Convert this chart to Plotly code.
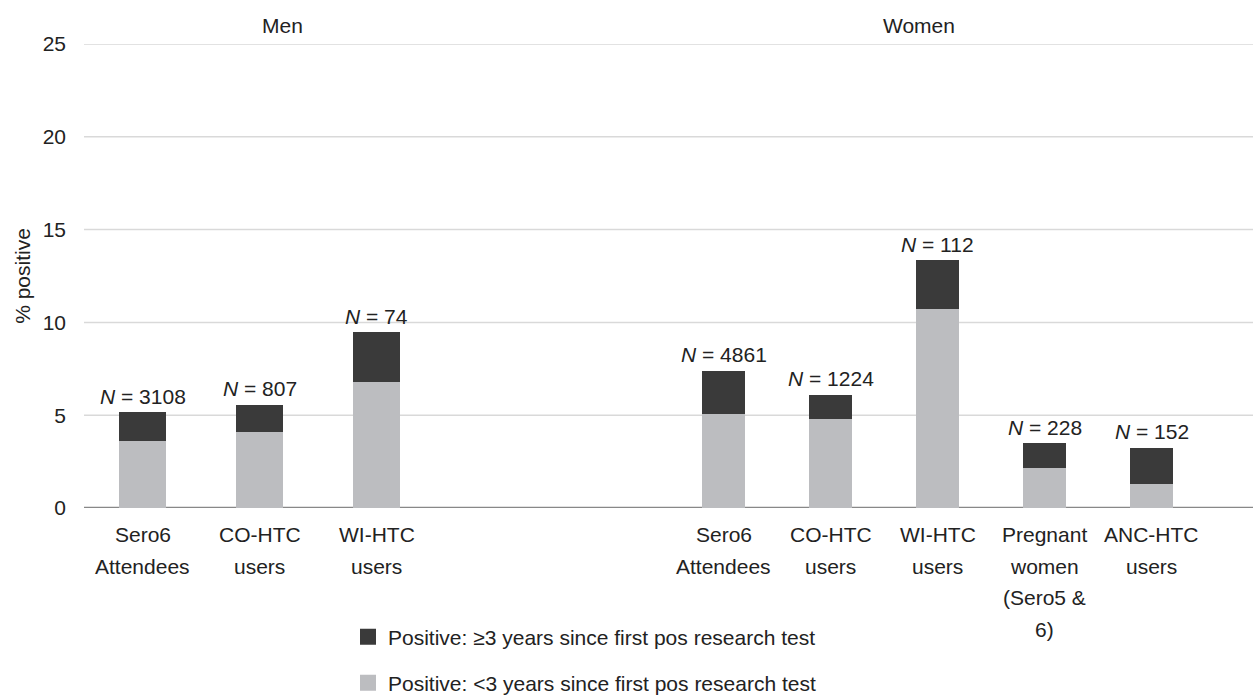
import plotly.graph_objects as go

# ---------------- data ----------------
men_categories = ["Sero6\nAttendees", "CO-HTC\nusers", "WI-HTC\nusers"]
women_categories = ["Sero6\nAttendees", "CO-HTC\nusers", "WI-HTC\nusers",
                    "Pregnant\nwomen\n(Sero5 &\n6)", "ANC-HTC\nusers"]

men_lt3 = [3.60, 4.12, 6.79]          # Positive: <3 years since first pos research test
men_ge3 = [1.56, 1.45, 2.69]          # Positive: >=3 years since first pos research test
men_n = [3108, 807, 74]

women_lt3 = [5.09, 4.80, 10.70, 2.17, 1.29]
women_ge3 = [2.31, 1.29, 2.65, 1.32, 1.95]
women_n = [4861, 1224, 112, 228, 152]

y_ticks = [0, 5, 10, 15, 20, 25]
panel_titles = ["Men", "Women"]
legend_labels = ["Positive: \u22653 years since first pos research test",
                 "Positive: <3 years since first pos research test"]

# ---------------- style ----------------
FONT = "Liberation Sans, Arial, Helvetica, sans-serif"
TXT = "#222222"
DARK = "#3a3a3a"
LIGHT = "#bcbdc0"
FS = 21

W, H = 1253, 696
ML, MR, MT, MB = 84, 0, 44, 188
PW = W - ML - MR
PH = H - MT - MB


def px_to_xpaper(px):
    return (px - ML) / PW


def px_to_ypaper(py):
    return (H - MB - py) / PH


men_dom = [0.0, px_to_xpaper(435.5)]
women_dom = [px_to_xpaper(670), px_to_xpaper(1205)]

fig = go.Figure()

panels = [
    ("x", men_categories, men_lt3, men_ge3, men_n),
    ("x2", women_categories, women_lt3, women_ge3, women_n),
]

for xa, cats, lt3, ge3, ns in panels:
    fig.add_trace(go.Bar(x=cats, y=lt3, xaxis=xa, yaxis="y",
                         marker=dict(color=LIGHT, line=dict(width=0)),
                         showlegend=False, hoverinfo="skip"))
    fig.add_trace(go.Bar(x=cats, y=ge3, xaxis=xa, yaxis="y",
                         marker=dict(color=DARK, line=dict(width=0)),
                         showlegend=False, hoverinfo="skip"))
    # N labels above stacks
    for c, a, b, n in zip(cats, lt3, ge3, ns):
        fig.add_annotation(x=c, y=a + b, xref=xa, yref="y",
                           text=f"<i>N</i> = {n}", showarrow=False,
                           yanchor="middle", yshift=16,
                           font=dict(family=FONT, size=FS, color=TXT))
    # category labels (one annotation per line for the wide line spacing)
    for c in cats:
        for k, line in enumerate(c.split("\n")):
            fig.add_annotation(x=c, y=0, xref=xa, yref="paper",
                               text=line, showarrow=False,
                               yanchor="middle", yshift=-(26.5 + 31.5 * k),
                               font=dict(family=FONT, size=FS, color=TXT))

# legend-only traces (square markers)
fig.add_trace(go.Scatter(x=[None], y=[None], mode="markers", name=legend_labels[0],
                         marker=dict(symbol="square", size=16, color=DARK),
                         legend="legend"))
fig.add_trace(go.Scatter(x=[None], y=[None], mode="markers", name=legend_labels[1],
                         marker=dict(symbol="square", size=16, color=LIGHT),
                         legend="legend2"))

# grid lines spanning the whole plot width
shapes = []
for t in y_ticks:
    shapes.append(dict(type="line", xref="paper", yref="y", x0=0, x1=1, y0=t, y1=t,
                       line=dict(color="#888888" if t == 0 else "#d9d9d9",
                                 width=2.5 if t == 0 else 1.5),
                       layer="below"))

# panel titles
fig.add_annotation(x=(men_dom[0] + men_dom[1]) / 2, y=1, xref="paper", yref="paper",
                   text=panel_titles[0], showarrow=False, yanchor="middle", yshift=19,
                   font=dict(family=FONT, size=FS, color=TXT))
fig.add_annotation(x=px_to_xpaper(957), y=1, xref="paper", yref="paper",
                   text=panel_titles[1], showarrow=False, yanchor="middle", yshift=19,
                   font=dict(family=FONT, size=FS, color=TXT))

legend_common = dict(font=dict(family=FONT, size=FS, color=TXT),
                     bgcolor="rgba(0,0,0,0)", borderwidth=0,
                     xanchor="left", yanchor="middle", orientation="v")

fig.update_layout(
    width=W, height=H,
    margin=dict(l=ML, r=MR, t=MT, b=MB, autoexpand=False),
    paper_bgcolor="white", plot_bgcolor="white",
    barmode="stack", bargap=0.6,
    font=dict(family=FONT, size=FS, color=TXT),
    shapes=shapes,
    xaxis=dict(domain=men_dom, anchor="y", showticklabels=False, showgrid=False,
               zeroline=False, showline=False, ticks=""),
    xaxis2=dict(domain=women_dom, anchor="y", showticklabels=False, showgrid=False,
                zeroline=False, showline=False, ticks=""),
    yaxis=dict(range=[0, 25], tickvals=y_ticks, showgrid=False, zeroline=False,
               showline=False, ticks="", ticklabelstandoff=17,
               tickfont=dict(family=FONT, size=FS, color=TXT),
               title=dict(text="% positive", standoff=6,
                          font=dict(family=FONT, size=FS, color=TXT))),
    legend=dict(x=px_to_xpaper(348), y=px_to_ypaper(637), **legend_common),
    legend2=dict(x=px_to_xpaper(348), y=px_to_ypaper(683), **legend_common),
    showlegend=True,
)

fig.write_html("out.html",
               config={"displayModeBar": False},
               post_script="document.body.style.margin='0px';"
                           "document.body.style.overflow='hidden';")
